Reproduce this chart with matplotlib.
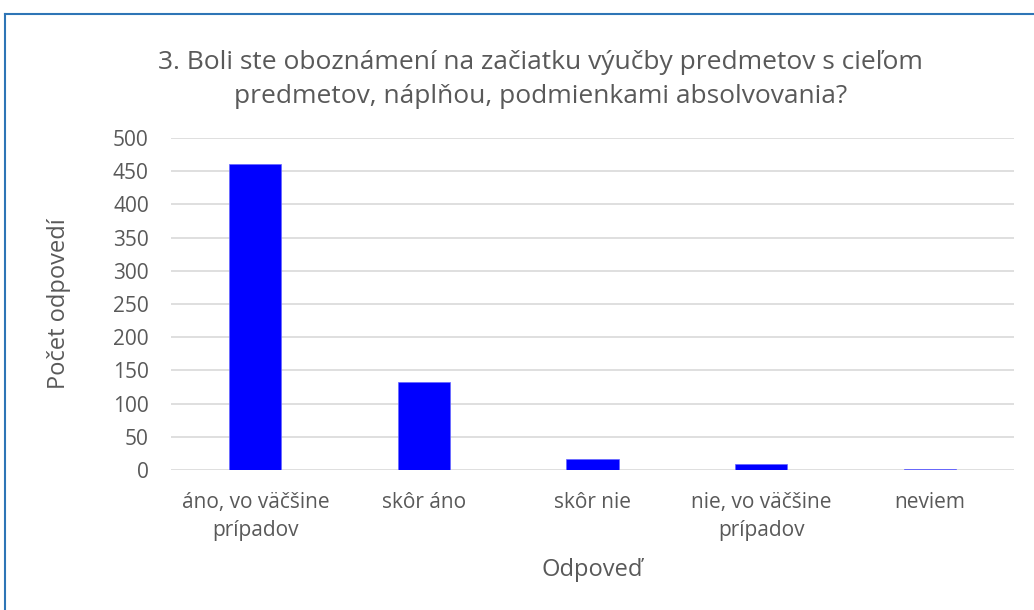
import matplotlib.pyplot as plt
from matplotlib.lines import Line2D

categories = ['áno, vo väčšine\nprípadov', 'skôr áno', 'skôr nie',
              'nie, vo väčšine\nprípadov', 'neviem']
counts = [461, 133, 17, 9, 1]
yticks = [0, 50, 100, 150, 200, 250, 300, 350, 400, 450, 500]

plt.rcParams['font.family'] = ['Open Sans', 'DejaVu Sans']
grey = '#595959'

fig = plt.figure(figsize=(10.34, 6.10), dpi=100)
ax = fig.add_axes([0.1654, 0.2295, 0.8153, 0.5443])

# chart frame (only top and left edges are visible in the crop)
W, H = 1034, 610
fig.lines.append(Line2D([5 / W, 1], [1 - 14 / H, 1 - 14 / H],
                        transform=fig.transFigure, color='#2E75B6', lw=1.5))
fig.lines.append(Line2D([5 / W, 5 / W], [0, 1 - 14 / H],
                        transform=fig.transFigure, color='#2E75B6', lw=1.5))

x = range(len(categories))
ax.bar(x, counts, width=0.31, color='#0000FF', edgecolor='#6666FF',
       linewidth=0.5, zorder=3)

ax.set_xlim(-0.5, len(categories) - 0.5)
ax.set_ylim(0, 500)
ax.set_yticks(yticks)
ax.set_xticks(list(x))
ax.set_xticklabels(categories, linespacing=1.45)
ax.yaxis.grid(True, color='#d9d9d9', linewidth=1.2, zorder=0)
ax.tick_params(axis='both', length=0, labelsize=15, colors=grey)
ax.tick_params(axis='y', pad=16)
ax.tick_params(axis='x', pad=16)
for s in ax.spines.values():
    s.set_visible(False)

ax.set_ylabel('Počet odpovedí', fontsize=17, color=grey, labelpad=30)
ax.set_xlabel('Odpoveď', fontsize=17, color=grey, labelpad=12)

fig.text(0.523, 0.87,
         '3. Boli ste oboznámení na začiatku výučby predmetov s cieľom\n'
         'predmetov, náplňou, podmienkami absolvovania?',
         ha='center', va='center', fontsize=19, color=grey, linespacing=1.45)

fig.savefig('out.png', dpi=100)
